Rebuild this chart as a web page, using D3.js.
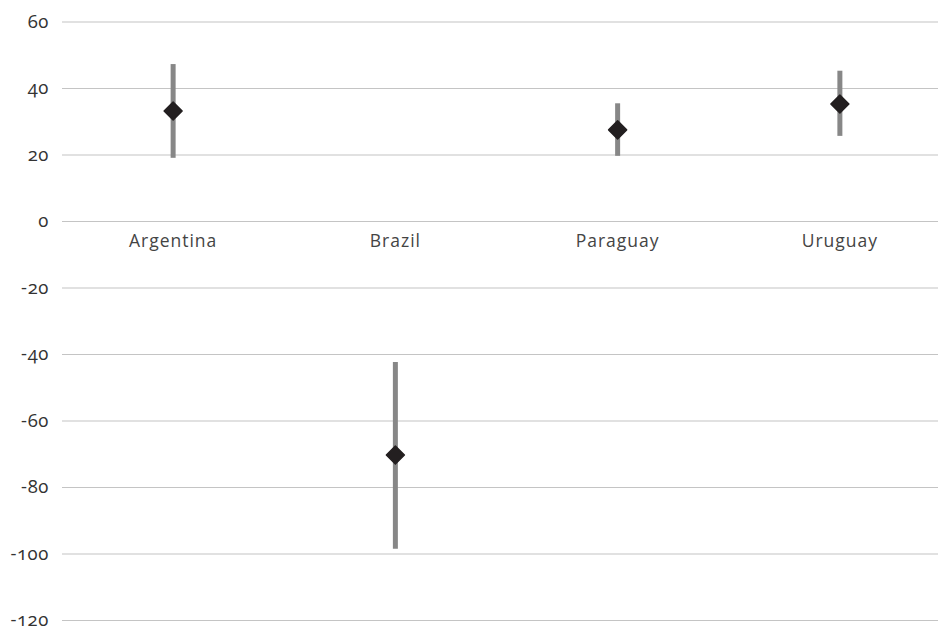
<!DOCTYPE html>
<html><head><meta charset="utf-8">
<script src="https://cdn.jsdelivr.net/npm/d3@7"></script>
<style>
body{margin:0;background:#fff;overflow:hidden;}
text{font-family:"Open Sans",Lato,sans-serif;font-feature-settings:"onum" 1;font-variant-numeric:oldstyle-nums;}
</style></head><body>
<svg id="c" width="938" height="628"></svg>
<script>
const categories = ["Argentina","Brazil","Paraguay","Uruguay"];
const highValues = [47.2, -42.4, 35.4, 45.2];
const lowValues = [19.0, -98.6, 19.6, 25.6];
const meanValues = [33.1, -70.4, 27.4, 35.2];
const yTicks = [60,40,20,0,-20,-40,-60,-80,-100,-120];

(function(){
const svg = d3.select("#c");
const mLeft = 62, mRight = 951, mTop = 21.5, mBottom = 620;
const x = d3.scaleBand().domain(categories).range([mLeft, mRight]);
const y = d3.scaleLinear().domain([-120, 60]).range([mBottom, mTop]);

const yAxis = d3.axisLeft(y).tickValues(yTicks).tickSize(-(938-mLeft)).tickPadding(13).tickFormat(d3.format("d"));
const gy = svg.append("g").attr("transform",`translate(${mLeft},0)`).call(yAxis);
gy.select(".domain").remove();
gy.selectAll(".tick line").attr("stroke","#c4c4c4").attr("stroke-width",1.2);
gy.selectAll(".tick text").attr("fill","#333").attr("font-size",18.5).attr("letter-spacing","0.6px").attr("dy","0.3em").text(d=>d<0?"-"+Math.abs(d):d);

const xAxis = d3.axisBottom(x).tickSize(0).tickPadding(14);
const gx = svg.append("g").attr("transform",`translate(0,${y(0)})`).call(xAxis);
gx.select(".domain").remove();
gx.selectAll(".tick text").attr("fill","#444").attr("font-size",17.5).attr("letter-spacing","1px").attr("dy","0.71em");

const data = categories.map((c,i)=>({c,hi:highValues[i],lo:lowValues[i],m:meanValues[i]}));
svg.append("g").selectAll("line").data(data).join("line")
  .attr("x1",d=>x(d.c)+x.bandwidth()/2).attr("x2",d=>x(d.c)+x.bandwidth()/2)
  .attr("y1",d=>y(d.hi)).attr("y2",d=>y(d.lo))
  .attr("stroke","#878787").attr("stroke-width",5);
svg.append("g").selectAll("path").data(data).join("path")
  .attr("transform",d=>`translate(${x(d.c)+x.bandwidth()/2},${y(d.m)})`)
  .attr("d","M0,-9 L9,0 L0,9 L-9,0 Z")
  .attr("fill","#231f20").attr("stroke","#231f20").attr("stroke-width",1.5).attr("stroke-linejoin","round");
})();
</script></body></html>
